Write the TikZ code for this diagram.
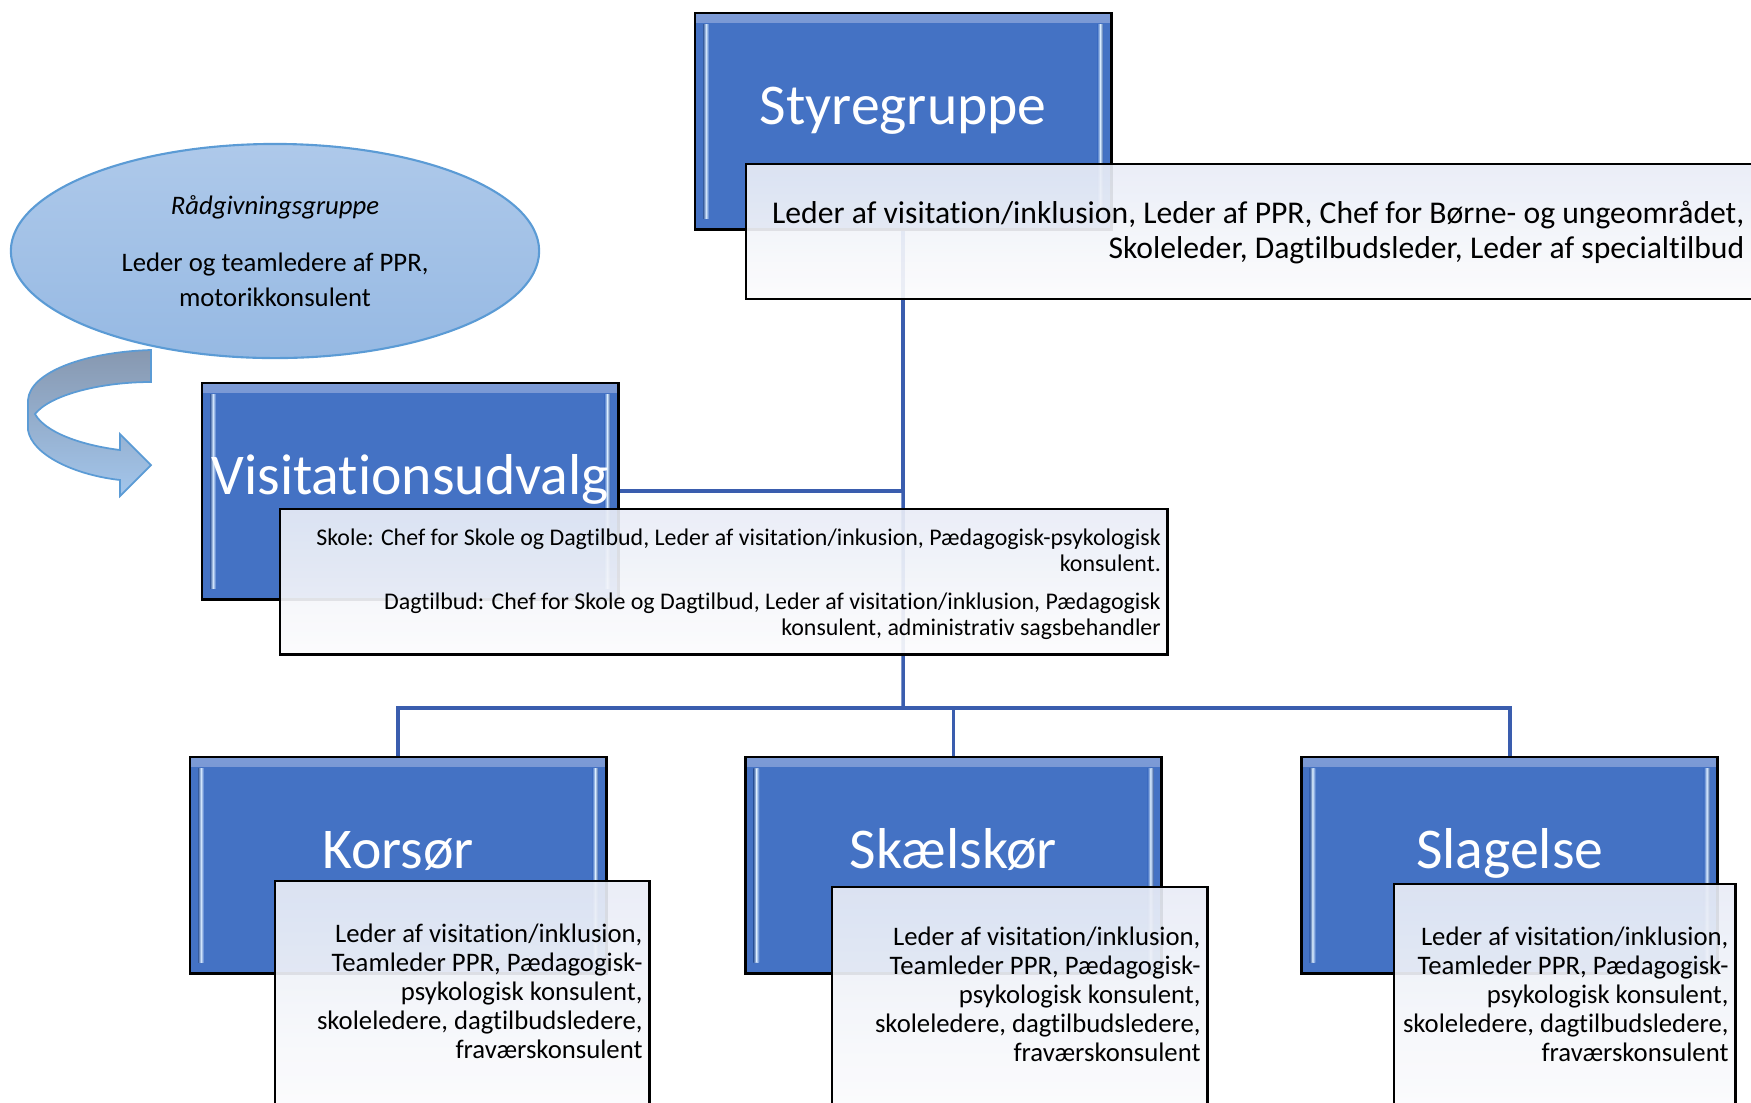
\documentclass[tikz,border=0pt]{standalone}
\usepackage{fontspec}
\setmainfont{Carlito}[Ligatures=NoCommon, RawFeature=-calt]
\usetikzlibrary{positioning,shapes.geometric}
\pgfdeclarelayer{back}
\pgfsetlayers{back,main}

\definecolor{boxblue}{HTML}{4472C4}
\definecolor{boxtop}{HTML}{7D9BD6}
\definecolor{linkblue}{HTML}{3A5DAE}
\definecolor{bevel}{HTML}{D0E4FB}
\definecolor{infotop}{HTML}{E8ECF6}
\definecolor{infobot}{HTML}{FCFCFD}
\definecolor{raadtop}{HTML}{AEC9EA}
\definecolor{raadbot}{HTML}{96B9E3}
\definecolor{raadline}{HTML}{5B9BD5}
\definecolor{arrowtop}{HTML}{8798B0}
\definecolor{arrowbot}{HTML}{A3C6EC}

\tikzset{
  blockbox/.style={draw=black, line width=0.8pt, fill=boxblue, inner sep=0pt, outer sep=0pt,
    minimum width=4.16cm, minimum height=2.16cm,
    path picture={
      \shade[top color=boxtop, bottom color=boxblue] (path picture bounding box.north west)
        rectangle ([yshift=-0.09cm]path picture bounding box.north east);
      \shade[left color=boxblue!80!black, right color=bevel] ([xshift=0.08cm,yshift=-0.11cm]path picture bounding box.north west)
        rectangle ([xshift=0.11cm,yshift=0.11cm]path picture bounding box.south west);
      \shade[left color=bevel, right color=boxblue] ([xshift=0.11cm,yshift=-0.11cm]path picture bounding box.north west)
        rectangle ([xshift=0.14cm,yshift=0.11cm]path picture bounding box.south west);
      \shade[left color=boxblue, right color=bevel] ([xshift=-0.14cm,yshift=-0.11cm]path picture bounding box.north east)
        rectangle ([xshift=-0.11cm,yshift=0.11cm]path picture bounding box.south east);
      \shade[left color=bevel, right color=boxblue!80!black] ([xshift=-0.11cm,yshift=-0.11cm]path picture bounding box.north east)
        rectangle ([xshift=-0.08cm,yshift=0.11cm]path picture bounding box.south east);
    }},
  titletext/.style={text=white, font=\fontsize{16.4}{19}\selectfont, inner sep=0pt},
  infobox/.style={draw=black, line width=0.8pt, top color=infotop, bottom color=infobot,
    fill opacity=0.92, inner sep=0pt, outer sep=0pt},
  infotext/.style={align=right, inner sep=0pt},
  smalltext/.style={infotext, font=\fontsize{7.6}{8.25}\selectfont},
  link/.style={draw=linkblue, line width=1pt},
}

\begin{document}
\begin{tikzpicture}[x=0.01cm, y=-0.01cm]
\path[use as bounding box, clip] (0,0) rectangle (1751,1102);

% advisory group and its arrow
\node[ellipse, draw=raadline, line width=0.6pt, top color=raadtop, bottom color=raadbot,
  minimum width=5.28cm, minimum height=2.14cm, align=center,
  font=\fontsize{7.6}{10}\selectfont] (raad) at (275,251)
  {\textit{Rådgivningsgruppe}\\[6.2pt] Leder og teamledere af PPR,\\ motorikkonsulent};
\filldraw[top color=arrowtop, bottom color=arrowbot, draw=raadline, line width=0.5pt]
  (151,350) .. controls (85,352) and (30,372) .. (28,400) -- (28,430)
  .. controls (32,455) and (75,475) .. (120,480)
  -- (120,496) -- (151,465) -- (120,434) -- (120,450)
  .. controls (80,445) and (45,432) .. (35,414)
  .. controls (50,395) and (100,382) .. (151,382) -- cycle;

% top
\node[blockbox, anchor=north west] (styre) at (695,13) {};
\node[titletext, anchor=base] (styre-title) at ([yshift=-0.03cm]styre.center) {Styregruppe};
\node[infobox, anchor=north west, minimum width=10.2cm, minimum height=1.35cm] (styre-info) at (746,164) {};
\node[infotext, font=\fontsize{9}{10}\selectfont, anchor=north east] (styre-text) at (1745,200)
  {Leder af visitation/inklusion, Leder af PPR, Chef for Børne- og ungeområdet,\\
   Skoleleder, Dagtilbudsleder, Leder af specialtilbud};

% middle
\node[blockbox, anchor=north west] (visit) at (202,383) {};
\node[titletext, anchor=base] (visit-title) at ([yshift=-0.03cm]visit.center) {Visitationsudvalg};
\node[infobox, anchor=north west, minimum width=8.87cm, minimum height=1.45cm] (visit-info) at (280,509) {};
\node[infotext, font=\fontsize{6.8}{7.4}\selectfont, below left=0.19cm and 0.06cm of visit-info.north east] (visit-text)
  {Skole: Chef for Skole og Dagtilbud, Leder af visitation/inkusion, Pædagogisk-psykologisk\\
   konsulent.\\[3.5pt]
   Dagtilbud: Chef for Skole og Dagtilbud, Leder af visitation/inklusion, Pædagogisk\\
   konsulent, administrativ sagsbehandler};

% bottom
\node[blockbox, anchor=north west] (korsor) at (190,757) {};
\node[blockbox, right=1.39cm of korsor] (skaelskor) {};
\node[blockbox, right=1.4cm of skaelskor] (slagelse) {};
\node[titletext, anchor=base] (korsor-title) at ([yshift=-0.03cm]korsor.center) {Korsør};
\node[titletext, anchor=base] (skaelskor-title) at ([yshift=-0.03cm]skaelskor.center) {Skælskør};
\node[titletext, anchor=base] (slagelse-title) at ([yshift=-0.03cm]slagelse.center) {Slagelse};

\node[infobox, anchor=north west, minimum width=3.74cm, minimum height=2.3cm] (korsor-info) at (275,881) {};
\node[infobox, anchor=north west, minimum width=3.75cm, minimum height=2.3cm] (skaelskor-info) at (832,887) {};
\node[infobox, anchor=north west, minimum width=3.41cm, minimum height=2.3cm] (slagelse-info) at (1394,884) {};
\node[smalltext, below left=0.42cm and 0.06cm of korsor-info.north east] (korsor-text)
  {Leder af visitation/inklusion,\\ Teamleder PPR, Pædagogisk-\\ psykologisk konsulent,\\
   skoleledere, dagtilbudsledere,\\ fraværskonsulent};
\node[smalltext, below left=0.39cm and 0.06cm of skaelskor-info.north east] (skaelskor-text)
  {Leder af visitation/inklusion,\\ Teamleder PPR, Pædagogisk-\\ psykologisk konsulent,\\
   skoleledere, dagtilbudsledere,\\ fraværskonsulent};
\node[smalltext, below left=0.42cm and 0.06cm of slagelse-info.north east] (slagelse-text)
  {Leder af visitation/inklusion,\\ Teamleder PPR, Pædagogisk-\\ psykologisk konsulent,\\
   skoleledere, dagtilbudsledere,\\ fraværskonsulent};

% connectors, under the boxes
\begin{pgfonlayer}{back}
\coordinate (fork) at (903,708);
\draw[link] (styre.south) |- (visit.east);
\draw[link] (styre.south) -- (fork);
\draw[link] (fork) -| (korsor.north);
\draw[link] (fork) -| (skaelskor.north);
\draw[link] (fork) -| (slagelse.north);
\end{pgfonlayer}
\end{tikzpicture}
\end{document}
